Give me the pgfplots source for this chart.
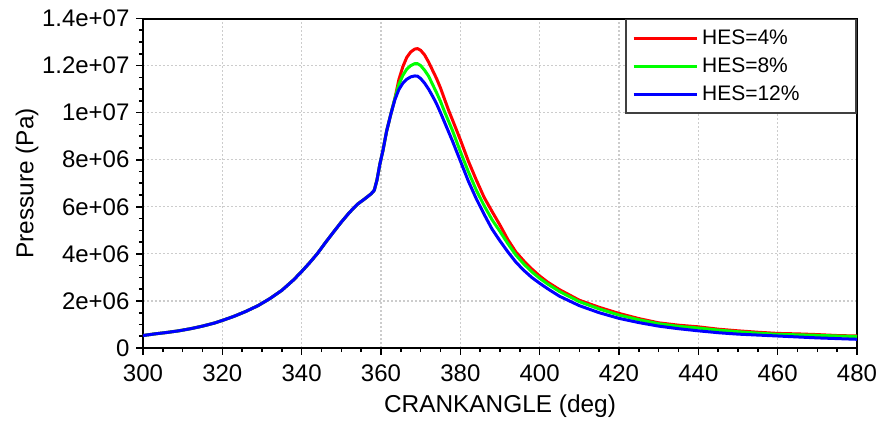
\documentclass[border=0pt]{standalone}
\usepackage{pgfplots}
\usepackage{pgfplotstable}
\pgfplotsset{compat=1.18}
\usepackage{fontspec}
\setmainfont{Liberation Sans}

\pgfplotstableread{
x y
300 0.53
303 0.60
306 0.66
309 0.73
312 0.82
315 0.93
318 1.06
320 1.17
323 1.35
326 1.56
329 1.80
332 2.10
335 2.45
338 2.90
340 3.25
342 3.62
344 4.02
346 4.48
348 4.92
350 5.35
352 5.75
354 6.10
356 6.35
357.5 6.55
358.3 6.70
359 7.15
359.7 7.80
360.5 8.40
361.4 9.20
362.5 9.95
363.5 10.60
364.5 11.40
365.5 11.95
366.5 12.35
367.5 12.58
368.5 12.70
369.2 12.72
370 12.65
371 12.45
372 12.15
373 11.80
374 11.45
375 11.05
376 10.58
377 10.12
378 9.70
380 8.85
382 7.95
384 7.15
386 6.40
388 5.80
390 5.22
392 4.60
394 4.08
396 3.70
398 3.36
400 3.06
402 2.80
405 2.48
410 2.03
415 1.73
420 1.47
425 1.25
430 1.07
435 0.97
440 0.90
445 0.80
450 0.73
455 0.67
460 0.62
465 0.60
470 0.57
475 0.53
480 0.51
}\hesfour

\pgfplotstableread{
x y
300 0.53
303 0.60
306 0.66
309 0.73
312 0.82
315 0.93
318 1.06
320 1.17
323 1.35
326 1.56
329 1.80
332 2.10
335 2.45
338 2.90
340 3.25
342 3.62
344 4.02
346 4.48
348 4.92
350 5.35
352 5.75
354 6.10
356 6.35
357.5 6.55
358.3 6.70
359 7.15
359.7 7.80
360.5 8.40
361.4 9.20
362.5 9.95
363.5 10.60
364.5 11.20
365.5 11.58
366.5 11.85
367.5 12.00
368.5 12.08
369.2 12.08
370 12.00
371 11.80
372 11.55
373 11.20
374 10.85
375 10.48
376 10.05
377 9.65
378 9.25
380 8.35
382 7.50
384 6.72
386 6.05
388 5.45
390 4.95
392 4.43
394 3.95
396 3.57
398 3.24
400 2.96
402 2.72
405 2.40
410 1.97
415 1.66
420 1.40
425 1.20
430 1.03
435 0.92
440 0.85
445 0.76
450 0.69
455 0.63
460 0.58
465 0.56
470 0.54
475 0.51
480 0.49
}\heseight

\pgfplotstableread{
x y
300 0.53
303 0.60
306 0.66
309 0.73
312 0.82
315 0.93
318 1.06
320 1.17
323 1.35
326 1.56
329 1.80
332 2.10
335 2.45
338 2.90
340 3.25
342 3.62
344 4.02
346 4.48
348 4.92
350 5.35
352 5.75
354 6.10
356 6.35
357.5 6.55
358.3 6.70
359 7.15
359.7 7.80
360.5 8.40
361.4 9.20
362.5 9.95
363.5 10.55
364.5 10.98
365.5 11.25
366.5 11.42
367.5 11.52
368.5 11.56
369.2 11.55
370 11.45
371 11.25
372 11.00
373 10.70
374 10.38
375 10.00
376 9.60
377 9.20
378 8.80
380 7.95
382 7.10
384 6.35
386 5.68
388 5.05
390 4.55
392 4.08
394 3.65
396 3.30
398 3.00
400 2.75
402 2.52
405 2.20
410 1.80
415 1.50
420 1.26
425 1.08
430 0.93
435 0.82
440 0.73
445 0.65
450 0.59
455 0.55
460 0.51
465 0.47
470 0.43
475 0.40
480 0.37
}\hestwelve

\begin{document}
\begin{tikzpicture}
\begin{axis}[
  name=ax,
  scale only axis,
  width=357pt, height=164.75pt,
  xmin=300, xmax=480, ymin=0, ymax=14,
  xtick={300,320,...,480},
  ytick={0,2,...,14},
  yticklabels={0,2e+06,4e+06,6e+06,8e+06,1e+07,1.2e+07,1.4e+07},
  minor tick num=3,
  tick align=outside,
  xtick pos=bottom, ytick pos=left,
  major tick length=3.25pt,
  minor tick length=2pt,
  tick style={black, line width=0.8pt},
  axis line style={black, line width=1pt},
  grid=major,
  major grid style={gray!40, line width=0.6pt, dash pattern=on 1pt off 1pt},
  /pgf/number format/assume math mode=true,
  ticklabel style={font=\fontsize{12}{14}\selectfont},
  xticklabel style={yshift=-1.5pt},
  label style={font=\fontsize{12.2}{14}\selectfont},
  xlabel={CRANKANGLE (deg)},
  ylabel={Pressure (Pa)},
  xlabel style={at={(axis description cs:0.5,0)}, anchor=base, yshift=-32.2pt},
  ylabel style={at={(axis description cs:-0.1535,0.5)}, anchor=base, rotate=0},
  legend style={at={(1,1)}, anchor=north east, draw=black!75, line width=0.9pt,
    fill=white, font=\fontsize{10.5}{12}\selectfont, inner xsep=3pt, inner ysep=3pt,
    row sep=1.2pt, /tikz/every even column/.append style={column sep=0pt}},
  legend cell align=left,
  legend image code/.code={\draw[#1, line width=1.5pt] (0pt,0pt) -- (31.5pt,0pt);},
]
\addplot[red, line width=1.5pt] table[x=x,y=y] {\hesfour};
\addlegendentry{\makebox[72pt][l]{HES=4\%}}
\addplot[green, line width=1.5pt] table[x=x,y=y] {\heseight};
\addlegendentry{\makebox[72pt][l]{HES=8\%}}
\addplot[blue, line width=1.5pt] table[x=x,y=y] {\hestwelve};
\addlegendentry{\makebox[72pt][l]{HES=12\%}}
\end{axis}
\pgfresetboundingbox
\useasboundingbox ([shift={(-71.5pt,-38pt)}]ax.south west) rectangle ([shift={(13pt,9.25pt)}]ax.north east);
\end{tikzpicture}
\end{document}
